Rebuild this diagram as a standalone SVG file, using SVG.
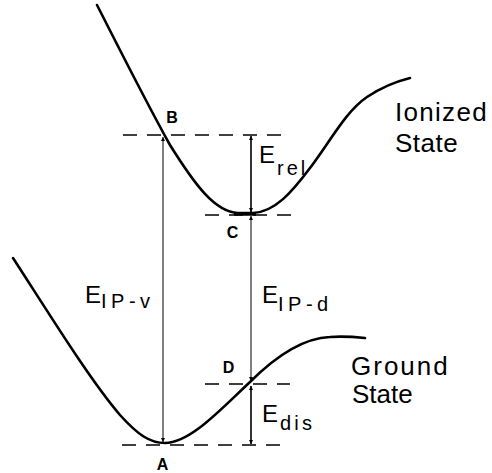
<svg xmlns="http://www.w3.org/2000/svg" width="492" height="473" viewBox="0 0 492 473">
<defs>
<marker id="ah" viewBox="0 0 10 10" refX="10" refY="5" markerWidth="4" markerHeight="8" markerUnits="userSpaceOnUse" orient="auto-start-reverse">
<path d="M0,0 L10,5 L0,10 z" fill="#000"/>
</marker>
<style>
.curve{fill:none;stroke:#000;stroke-width:2.6;stroke-linecap:round}
.dash{fill:none;stroke:#000;stroke-width:1.5;stroke-dasharray:14 10}
.thin{fill:none;stroke:#000;stroke-width:1}
.arr{fill:none;stroke:#000;stroke-width:1.6}
.lbl{font-family:"Liberation Sans",Arial,sans-serif;fill:#000}
.pt{font-family:"Liberation Sans",Arial,sans-serif;font-weight:bold;font-size:16px;fill:#000;text-anchor:middle}
.big{font-size:24px}
.sub{font-size:20px}
.st{font-size:26px}
</style>
</defs>
<g id="curves">
<path id="ionized-curve" class="curve" d="M97,5 C120,50 145,100 170,145 C195,185 215,212 238,213 L253,213 C275,212 292,192 310,168 C330,142 345,112 367,97 C382,87 398,81 410,78"/>
<line x1="234" y1="214" x2="256" y2="214" stroke="#000" stroke-width="3.5"/>
<path id="ground-curve" class="curve" d="M13,258 C50,315 90,380 120,415 C138,435 150,443 165,443 C190,443 220,410 250,382 C278,354 305,338 330,337 C345,336 355,337 365,338"/>
</g>
<g id="connectors">
<line class="dash" x1="123" y1="135" x2="290" y2="135"/>
<line class="dash" x1="205" y1="215" x2="298" y2="215"/>
<line class="dash" x1="205" y1="384" x2="290" y2="384"/>
<line class="dash" x1="122" y1="445" x2="290" y2="445"/>
<line class="thin" x1="163" y1="137" x2="163" y2="442" marker-start="url(#ah)" marker-end="url(#ah)"/>
<line class="arr" x1="251" y1="136" x2="251" y2="212" marker-start="url(#ah)" marker-end="url(#ah)"/>
<line class="thin" x1="251" y1="216" x2="251" y2="381" marker-start="url(#ah)" marker-end="url(#ah)"/>
<line class="arr" x1="251" y1="386" x2="251" y2="444" marker-start="url(#ah)" marker-end="url(#ah)"/>
</g>
<g id="B"><text class="pt" x="172" y="123">B</text></g>
<g id="C"><text class="pt" x="232.5" y="238">C</text></g>
<g id="D"><text class="pt" x="228.5" y="373">D</text></g>
<g id="A"><text class="pt" x="162.5" y="470" font-weight="normal">A</text></g>
<g id="ionized-state"><text class="lbl st" x="395" y="121" letter-spacing="1.3">Ionized</text><text class="lbl st" x="395" y="152" letter-spacing="0.5">State</text></g>
<g id="ground-state"><text class="lbl st" x="351" y="375" letter-spacing="2">Ground</text><text class="lbl st" x="352" y="403">State</text></g>
<g id="E-rel"><text class="lbl" x="259" y="163"><tspan class="big">E</tspan><tspan class="sub" dx="2" dy="12" letter-spacing="3">rel</tspan></text></g>
<g id="E-IP-v"><text class="lbl" x="85" y="303"><tspan class="big">E</tspan><tspan class="sub" dy="5" letter-spacing="4.5">IP-v</tspan></text></g>
<g id="E-IP-d"><text class="lbl" x="262" y="303"><tspan class="big">E</tspan><tspan class="sub" dy="8" letter-spacing="4.5">IP-d</tspan></text></g>
<g id="E-dis"><text class="lbl" x="262" y="422"><tspan class="big">E</tspan><tspan class="sub" dx="2" dy="8" letter-spacing="3.2">dis</tspan></text></g>
</svg>
